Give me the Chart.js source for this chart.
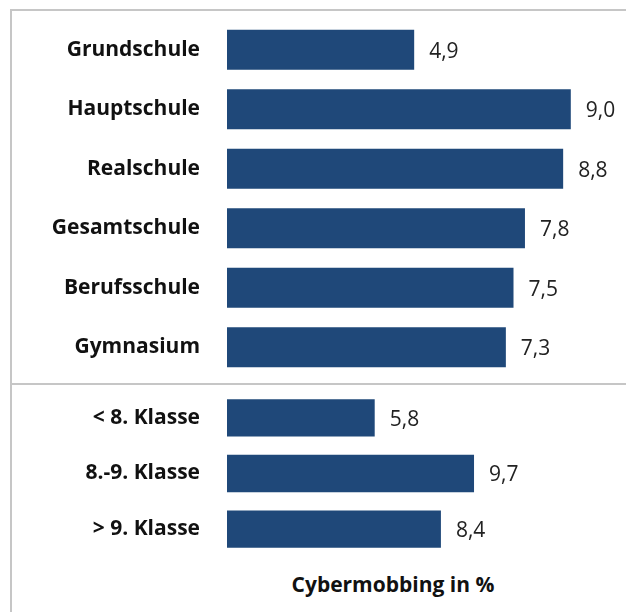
<!DOCTYPE html>
<html>
<head>
<meta charset="utf-8">
<script src="https://cdn.jsdelivr.net/npm/chart.js@4/dist/chart.umd.min.js"></script>
<style>
  html, body { margin: 0; padding: 0; background: #fff; }
  #wrap { position: relative; width: 626px; height: 612px; overflow: hidden; font-family: 'Open Sans', sans-serif; }
  #frame { position: absolute; left: 10px; top: 9px; width: 620px; height: 610px;
           border-left: 2px solid #c6c6c6; border-top: 2px solid #c6c6c6; }
  #divider { position: absolute; left: 10px; top: 383px; width: 620px; height: 0; border-top: 2px solid #c6c6c6; }
  canvas { position: absolute; left: 0; }
  #title { position: absolute; left: 0; width: 786px; top: 570px; text-align: center;
           font-weight: bold; font-size: 21px; color: #111; }
</style>
</head>
<body>
<div id="wrap">
  <div id="frame"></div>
  <div id="divider"></div>
  <canvas id="schoolChart" width="626" height="357" style="top:20px"></canvas>
  <canvas id="gradeChart" width="626" height="167" style="top:390px"></canvas>
  <div id="title">Cybermobbing in %</div>
</div>
<script>
const schoolLabels = ['Grundschule', 'Hauptschule', 'Realschule', 'Gesamtschule', 'Berufsschule', 'Gymnasium'];
const schoolValues = [4.9, 9.0, 8.8, 7.8, 7.5, 7.3];
const gradeLabels = ['< 8. Klasse', '8.-9. Klasse', '> 9. Klasse'];
const gradeValues = [5.8, 9.7, 8.4];

const barColor = '#1f4879';

function formatValue(v) {
  return v.toFixed(1).replace('.', ',');
}

const valueLabels = {
  id: 'valueLabels',
  afterDatasetsDraw(chart) {
    const ctx = chart.ctx;
    const meta = chart.getDatasetMeta(0);
    ctx.save();
    ctx.font = '21px "Open Sans"';
    ctx.fillStyle = '#222';
    ctx.textAlign = 'left';
    ctx.textBaseline = 'middle';
    meta.data.forEach((bar, i) => {
      ctx.fillText(formatValue(chart.data.datasets[0].data[i]), bar.x + 15, bar.y + 2);
    });
    ctx.restore();
  },
};

function makeChart(id, labels, values, xMax) {
  return new Chart(document.getElementById(id), {
    type: 'bar',
    data: {
      labels: labels,
      datasets: [
        {
          data: values,
          backgroundColor: barColor,
          borderWidth: 0,
          barPercentage: 0.67,
          categoryPercentage: 1,
        },
      ],
    },
    options: {
      indexAxis: 'y',
      animation: false,
      responsive: false,
      layout: { padding: { left: 0, right: 17, top: 0, bottom: 0 } },
      plugins: { legend: { display: false }, tooltip: { enabled: false } },
      scales: {
        x: { display: false, min: 0, max: xMax },
        y: {
          grid: { display: false, drawTicks: false },
          border: { display: false },
          ticks: {
            color: '#111',
            padding: 27,
            font: { family: 'Open Sans', size: 21, weight: 'bold' },
          },
          afterFit: scale => {
            // keep the label gap only horizontal
            scale.width = 227;
            scale.paddingTop = 0;
            scale.paddingBottom = 0;
          },
        },
      },
    },
    plugins: [valueLabels],
  });
}

makeChart('schoolChart', schoolLabels, schoolValues, 10);
makeChart('gradeChart', gradeLabels, gradeValues, 15);
</script>
</body>
</html>
